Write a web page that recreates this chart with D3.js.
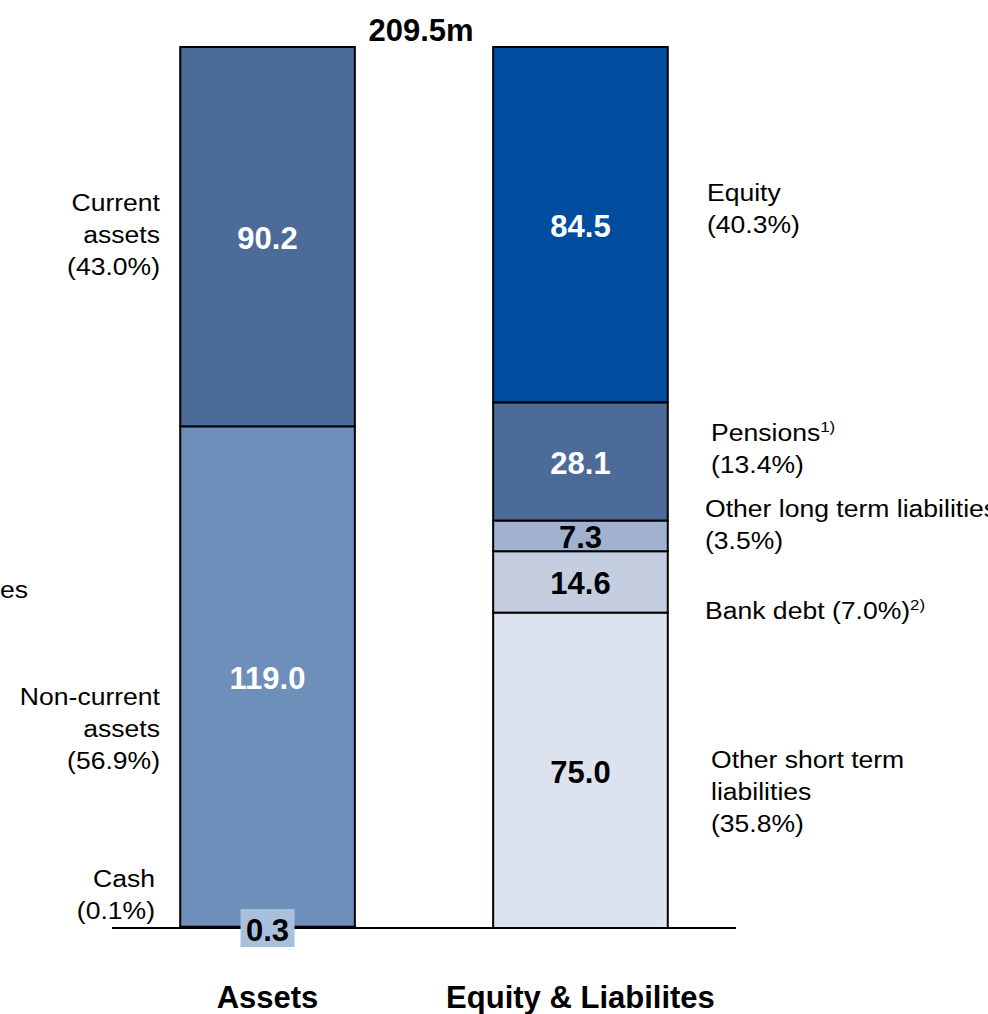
<!DOCTYPE html>
<html>
<head>
<meta charset="utf-8">
<script src="https://cdn.jsdelivr.net/npm/d3@7"></script>
<style>
  html, body { margin: 0; padding: 0; background: #fff; }
  svg { display: block; font-family: "Liberation Sans", Arial, sans-serif; }
</style>
</head>
<body>
<svg id="chart" width="988" height="1014"></svg>
<script>
// Balance sheet structure (EUR m)
const total = 209.5;
const columns = ["Assets", "Equity & Liabilites"];

// Assets, bottom to top
const assetNames  = ["Cash", "Non-current assets", "Current assets"];
const assetValues = [0.3, 119.0, 90.2];
const assetShares = ["0.1%", "56.9%", "43.0%"];
const assetColors = ["#6f8fbb", "#6f8fbb", "#4d6b99"];

// Equity & liabilities, bottom to top
const liabNames  = ["Other short term liabilities", "Bank debt", "Other long term liabilities", "Pensions", "Equity"];
const liabValues = [75.0, 14.6, 7.3, 28.1, 84.5];
const liabShares = ["35.8%", "7.0%", "3.5%", "13.4%", "40.3%"];
const liabColors = ["#dde3ee", "#c4cee0", "#a0b2d0", "#4d6b99", "#004c9f"];
const liabLabelColors = ["#000", "#000", "#000", "#fff", "#fff"];

const svg = d3.select("#chart");

const y = d3.scaleLinear().domain([0, total]).range([928, 47]);
const x = d3.scaleBand().domain(columns).range([112, 736]).paddingInner(0.442).paddingOuter(0.218);

const BOLD = 31;
const REG = 23.5;
const STRETCH = 1.13;

function stack(values) {
  let acc = 0;
  return values.map(v => { const s = { y0: acc, y1: acc + v, v }; acc += v; return s; });
}

const assetStack = stack(assetValues);
const liabStack = stack(liabValues);

function drawColumn(col, segs, colors) {
  svg.append("g").selectAll("rect").data(segs).join("rect")
    .attr("x", x(col))
    .attr("width", x.bandwidth())
    .attr("y", d => y(d.y1))
    .attr("height", d => y(d.y0) - y(d.y1))
    .attr("fill", (d, i) => colors[i])
    .attr("stroke", "#000")
    .attr("stroke-width", 2);
}

drawColumn(columns[0], assetStack, assetColors);
drawColumn(columns[1], liabStack, liabColors);

// baseline
svg.append("line")
  .attr("x1", 112).attr("x2", 736)
  .attr("y1", y(0)).attr("y2", y(0))
  .attr("stroke", "#000").attr("stroke-width", 2);

// value labels inside segments
const ax = x(columns[0]) + x.bandwidth() / 2;
const lx = x(columns[1]) + x.bandwidth() / 2;

svg.append("g").selectAll("text").data(assetStack.slice(1)).join("text")
  .attr("x", ax)
  .attr("y", d => (y(d.y0) + y(d.y1)) / 2 + 2)
  .attr("dominant-baseline", "central")
  .attr("text-anchor", "middle")
  .attr("font-size", BOLD).attr("font-weight", "bold")
  .attr("fill", "#fff")
  .text(d => d.v.toFixed(1));

svg.append("g").selectAll("text").data(liabStack).join("text")
  .attr("x", lx)
  .attr("y", d => (y(d.y0) + y(d.y1)) / 2 + 2)
  .attr("dominant-baseline", "central")
  .attr("text-anchor", "middle")
  .attr("font-size", BOLD).attr("font-weight", "bold")
  .attr("fill", (d, i) => liabLabelColors[i])
  .text(d => d.v.toFixed(1));

// cash label box below the bar
const cashLabel = svg.append("g");
cashLabel.append("rect")
  .attr("x", ax - 27).attr("y", y(0) - 19)
  .attr("width", 54).attr("height", 38)
  .attr("fill", "#a8c0de");
cashLabel.append("text")
  .attr("x", ax).attr("y", y(0) + 2)
  .attr("dominant-baseline", "central")
  .attr("text-anchor", "middle")
  .attr("font-size", BOLD).attr("font-weight", "bold")
  .attr("fill", "#000")
  .text(assetStack[0].v.toFixed(1));

// total on top
svg.append("text")
  .attr("x", 421).attr("y", 41)
  .attr("text-anchor", "middle")
  .attr("font-size", BOLD).attr("font-weight", "bold")
  .text(total.toFixed(1) + "m");

// column titles
svg.append("g").selectAll("text").data(columns).join("text")
  .attr("x", d => x(d) + x.bandwidth() / 2)
  .attr("y", 1008)
  .attr("text-anchor", "middle")
  .attr("font-size", BOLD).attr("font-weight", "bold")
  .text(d => d);

// side annotations (slightly widened type)
function multiline(xPos, yTop, lines, anchor) {
  const g = svg.append("g")
    .attr("transform", `translate(${xPos},0) scale(${STRETCH},1)`);
  const t = g.append("text")
    .attr("text-anchor", anchor)
    .attr("font-size", REG)
    .attr("fill", "#000");
  lines.forEach((ln, i) => {
    const ts = t.append("tspan").attr("x", 0).attr("y", yTop + i * 32);
    if (Array.isArray(ln)) {
      ts.text(ln[0]);
      ts.append("tspan").attr("font-size", 15).attr("dy", -9).text(ln[1]);
    } else {
      ts.text(ln);
    }
  });
}

multiline(160, 211, ["Current", "assets", "(" + assetShares[2] + ")"], "end");
multiline(160, 705, ["Non-current", "assets", "(" + assetShares[1] + ")"], "end");
multiline(155, 887, ["Cash", "(" + assetShares[0] + ")"], "end");
multiline(28, 598, ["Liabilities"], "end");

multiline(707, 201, ["Equity", "(" + liabShares[4] + ")"], "start");
multiline(711, 441, [["Pensions", "1)"], "(" + liabShares[3] + ")"], "start");
multiline(705, 517, ["Other long term liabilities", "(" + liabShares[2] + ")"], "start");
multiline(705, 619, [["Bank debt (" + liabShares[1] + ")", "2)"]], "start");
multiline(711, 768, ["Other short term", "liabilities", "(" + liabShares[0] + ")"], "start");
</script>
</body>
</html>
